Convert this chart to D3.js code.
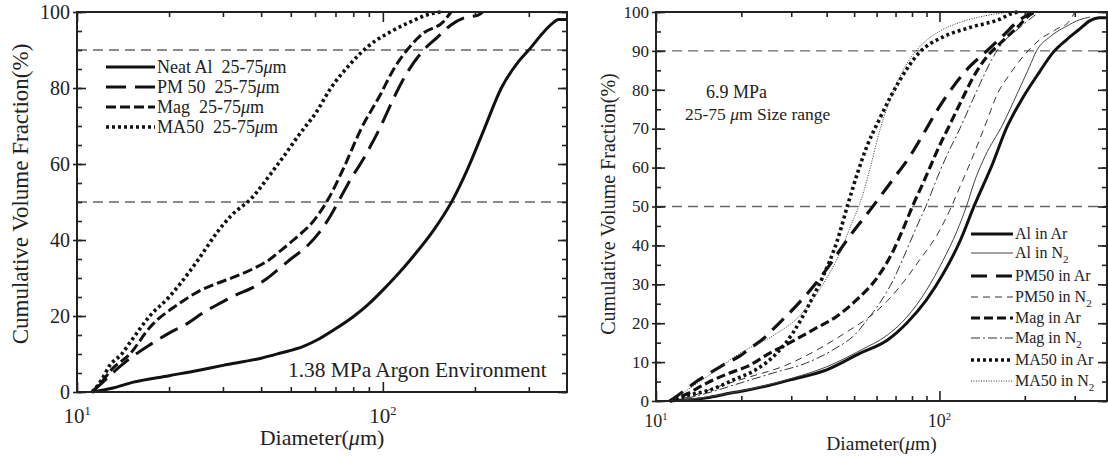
<!DOCTYPE html>
<html><head><meta charset="utf-8">
<script src="https://cdn.jsdelivr.net/npm/d3@7"></script>
<style>
html,body{margin:0;padding:0;background:#fff;}
svg{display:block;font-family:"Liberation Serif","Times New Roman",serif;}
text{fill:#222;white-space:pre;}
</style></head><body>
<svg id="chart" width="1108" height="456"></svg>
<script>
// ---------- DATA (diameter in µm, cumulative volume %) ----------
// Left panel: 1.38 MPa Argon
const leftNames = ["Neat Al  25-75", "PM 50  25-75", "Mag  25-75", "MA50  25-75"];
const neatAl = [[11.2,0],[13,1],[15.3,2.6],[20,4.3],[25.3,5.8],[30,7],[40,8.9],[46,10.2],[55,12],[62,14],[69,16.3],[80,19.8],[90,23.2],[100,26.8],[110,30.3],[126,35.8],[146,42.4],[169,50.5],[190,59],[214,69],[244,80],[278,87],[300,90],[338,95],[363,97.4],[375,98],[400,98]];
const pm50L = [[11.2,0],[12.3,3],[13.5,6],[15,9],[17.3,12.4],[20,15.5],[22.9,18],[26,21],[29.4,23.4],[33,25.5],[37.8,27.6],[42,30],[46,32.6],[50,35],[56.7,38.5],[62,42],[67.6,46.5],[72,50.5],[76.6,54.5],[88,62.5],[98.5,70],[108,77],[120,84],[136,90],[151,93.4],[167,96.6],[185,98.5],[205,99.2],[212,100]];
const magL = [[11.2,0],[12,2.5],[13,6],[14.9,10],[17.3,17],[21.7,23.4],[25,26.5],[28.7,28.6],[33,30.4],[37.8,32.5],[42,34.5],[46,37],[51,40],[60,45.5],[66,50.5],[74.5,59],[84.6,69],[98.5,78.5],[108,84.7],[120,90],[136,94.5],[158,97.5],[167,100]];
const ma50L = [[11.2,0],[12,3],[12.8,7],[14,10],[14.9,13],[17.3,20],[20,25],[21.8,28.6],[25,35],[28.7,42],[32,46.5],[37,50.8],[44,58.5],[47.4,62],[53,67.5],[61,74],[67,79.5],[78.6,86.5],[89,90.8],[106,94.8],[123,97.4],[146,99.7],[155,100]];

// Right panel: 6.9 MPa, Ar vs N2
const rightNames = ["Al in Ar","Al in N","PM50 in Ar","PM50 in N","Mag in Ar","Mag in N","MA50 in Ar","MA50 in N"];
const rightSubs = ["", "2", "", "2", "", "2", "", "2"];
const alAr = [[11.2,0],[13,0.3],[15.1,0.8],[18.2,2],[20,2.5],[25,4],[30,5.5],[40,8],[52.5,12.3],[65.6,15.7],[76.6,20],[90,26],[102.7,32.5],[118,41],[133,50.4],[154,61],[172,70],[197,78],[225,84.5],[251,89.5],[280,92.8],[312,95.6],[340,97.8],[366,98.5],[390,98.5]];
const alN2 = [[11.2,0],[13,0.4],[15,1],[20,2.6],[30,5.8],[40,8.8],[52.5,13],[65.6,17],[76.6,21.5],[90,28.5],[102.7,36],[115,43.5],[125,50.4],[133,56.5],[145,63],[167,71],[188,79],[208,86],[220,90],[245,93.6],[280,96.3],[312,98],[340,98.7]];
const pm50Ar = [[11.2,0],[12.5,2.5],[14,5.2],[15.5,7.2],[17.8,9.8],[19.8,11.6],[21.4,13.5],[23.9,16],[25.9,18.5],[32.2,25.5],[36.9,30.5],[41,35],[48.4,42.5],[56.8,49],[68.6,57],[78.8,63],[87.5,68.5],[97.7,74.5],[111,80.5],[128,86],[147,90],[167,93.8],[192,98],[204,99.2],[210,100]];
const pm50N2 = [[11.2,0],[13,1],[16.4,3.6],[21.4,6.2],[28.1,8.9],[36.9,13.1],[48.4,18.3],[57,21.8],[65.6,25.8],[74.5,30.5],[85,36.2],[97.7,42.5],[108.7,49],[118,55],[128,61],[147,72],[159,78.5],[177,84],[197,88.5],[225,92.8],[259,95.6],[287,97.6],[300,100]];
const magAr = [[11.2,0],[13,2],[15.1,4.6],[18.2,7.2],[21,8.9],[25.2,12.3],[29.7,15],[35.8,18.3],[43.5,21.8],[51,26],[60,31.5],[68.6,38.5],[74,43.8],[80.7,50.4],[87.5,56],[92.5,60],[97.7,64],[108.7,71],[121,78],[131,83],[147,88.5],[164,92],[188,96],[213,99.7],[220,100]];
const magN2 = [[11.2,0],[13,0.8],[15.1,2],[19.8,4.6],[25.9,7.2],[34,9.8],[42,13.1],[51,17.5],[55.5,20.8],[61.6,25.2],[68.6,31],[76.6,38.8],[83,44.7],[90,50.4],[97.7,57],[106,63],[118,70],[131,77.4],[142,83],[154,88.2],[167,92],[192,96],[213,98.7],[225,100]];
const ma50Ar = [[11.2,0],[13,1.5],[15.5,2.8],[18.7,5.4],[22.7,8.2],[26.7,12.3],[30.4,17.5],[34.9,25.2],[38.8,32],[43.5,41],[47.5,50.5],[51.5,58.8],[55.5,65.5],[61,72],[67,78],[72.5,82.5],[85,89.6],[103,93.6],[128,96],[164,98.2],[181,99.7],[190,100]];
const ma50N2 = [[11.2,0],[13,3],[15.1,6.2],[19.8,12.3],[25.9,16.8],[32.2,22],[38.8,30],[44.5,38],[48,44],[53.6,53],[57,60],[61,68.5],[67,77.5],[75,85.5],[85,91],[100,95],[120,97.5],[140,98.8],[165,99.7],[180,100]];

// Axis tick values
const xMajor = [10, 100];
const xMinor = [20,30,40,50,60,70,80,90,200,300];
const leftYMajor = [0,20,40,60,80,100];
const rightYMajor = [0,10,20,30,40,50,60,70,80,90,100];
const yMinor = d3.range(0, 101, 5);
const refLines = [50, 90];

// ---------- STYLES ----------
const leftStyles = [
  {w:3, dash:null}, {w:3, dash:"20,9"}, {w:3, dash:"10,4"}, {w:3.6, dash:"3,3"}
];
const rightStyles = [
  {w:3, dash:null}, {w:1, dash:null, c:"#444"},
  {w:3.2, dash:"16,9"}, {w:1, dash:"7,5", c:"#333"},
  {w:3.2, dash:"9,4"}, {w:1, dash:"9,3,2,3", c:"#333"},
  {w:3.6, dash:"3,3"}, {w:1, dash:"1,1.5", c:"#333"}
];

const svg = d3.select("#chart");

function panel(cfg) {
  const x = d3.scaleLog().domain(cfg.xDomain).range([cfg.x0, cfg.x1]);
  const y = d3.scaleLinear().domain([0,100]).range([cfg.y1, cfg.y0]);
  const g = svg.append("g");

  // reference lines
  g.selectAll("line.ref").data(refLines).join("line")
    .attr("x1", cfg.x0).attr("x2", cfg.x1)
    .attr("y1", d=>y(d)).attr("y2", d=>y(d))
    .attr("stroke", "#666").attr("stroke-width", 1.3).attr("stroke-dasharray", "10,6");

  // curves
  const line = d3.line().x(d=>x(d[0])).y(d=>y(d[1])).curve(d3.curveMonotoneX);
  cfg.series.forEach((s,i) => {
    const st = cfg.styles[i];
    g.append("path").attr("d", line(s)).attr("fill","none")
      .attr("stroke", st.c || "#111").attr("stroke-width", st.w)
      .attr("stroke-dasharray", st.dash).attr("stroke-linejoin","round");
  });

  // axes ticks
  const addAxis = (axis, tx, ty) => {
    const a = g.append("g").attr("transform", `translate(${tx},${ty})`).call(axis);
    a.select(".domain").remove();
    a.selectAll("text").remove();
    a.selectAll("line").attr("stroke", "#222").attr("stroke-width", 1.6);
  };
  addAxis(d3.axisBottom(x).tickValues(xMinor).tickSize(-5).tickFormat(""), 0, cfg.y1);
  addAxis(d3.axisBottom(x).tickValues(xMajor).tickSize(-10).tickFormat(""), 0, cfg.y1);
  addAxis(d3.axisTop(x).tickValues(xMinor).tickSize(-5).tickFormat(""), 0, cfg.y0);
  addAxis(d3.axisTop(x).tickValues(xMajor).tickSize(-10).tickFormat(""), 0, cfg.y0);
  addAxis(d3.axisLeft(y).tickValues(yMinor).tickSize(-5).tickFormat(""), cfg.x0, 0);
  addAxis(d3.axisLeft(y).tickValues(cfg.yMajor).tickSize(-9).tickFormat(""), cfg.x0, 0);
  addAxis(d3.axisLeft(y).tickValues(cfg.yMajor).tickSize(4).tickFormat(""), cfg.x0, 0);
  addAxis(d3.axisRight(y).tickValues(yMinor).tickSize(-5).tickFormat(""), cfg.x1, 0);
  addAxis(d3.axisRight(y).tickValues(cfg.yMajor).tickSize(-9).tickFormat(""), cfg.x1, 0);

  // frame
  g.append("rect").attr("x", cfg.x0).attr("y", cfg.y0)
    .attr("width", cfg.x1-cfg.x0).attr("height", cfg.y1-cfg.y0)
    .attr("fill","none").attr("stroke","#222").attr("stroke-width",2);

  // y tick labels
  g.selectAll("text.yl").data(cfg.yMajor).join("text")
    .attr("x", cfg.x0-7).attr("y", d=>y(d)+cfg.tickFont*0.34)
    .attr("text-anchor","end").attr("font-size", cfg.tickFont).text(d=>d);

  // x tick labels 10^n
  xMajor.forEach(v => {
    const t = g.append("text").attr("x", x(v)).attr("y", cfg.xLabY)
      .attr("text-anchor","middle").attr("font-size", cfg.tickFont+1);
    t.append("tspan").text("10");
    t.append("tspan").attr("dy", -cfg.tickFont*0.42).attr("font-size", cfg.tickFont*0.62)
      .text(Math.round(Math.log10(v)));
  });

  // axis titles
  const xt = g.append("text").attr("x", (cfg.x0+cfg.x1)/2).attr("y", cfg.xTitleY)
    .attr("text-anchor","middle").attr("font-size", cfg.xTitleFont);
  xt.append("tspan").text("Diameter(");
  xt.append("tspan").attr("font-style","italic").text("\u03bc");
  xt.append("tspan").text("m)");
  g.append("text").attr("transform", `translate(${cfg.yTitleX},${cfg.yTitleY}) rotate(-90)`)
    .attr("text-anchor","middle").attr("dominant-baseline","central")
    .attr("font-size", cfg.yTitleFont).text("Cumulative Volume Fraction(%)");

  return {x, y, g};
}

// LEFT PANEL
const L = panel({
  x0:77, x1:567, y0:12, y1:392, xDomain:[10,400],
  series:[neatAl, pm50L, magL, ma50L], styles:leftStyles,
  yMajor:leftYMajor, tickFont:20, xLabY:423, xTitleY:445, xTitleFont:22,
  yTitleX:20, yTitleY:194, yTitleFont:23
});
// left legend
leftNames.forEach((n,i) => {
  const yy = 67 + i*20, st = leftStyles[i];
  L.g.append("line").attr("x1",106).attr("x2",155).attr("y1",yy).attr("y2",yy)
    .attr("stroke","#111").attr("stroke-width",st.w).attr("stroke-dasharray",st.dash);
  const t = L.g.append("text").attr("x",157).attr("y",yy+6).attr("font-size",18);
  t.append("tspan").text(n);
  t.append("tspan").attr("font-style","italic").text("\u03bc");
  t.append("tspan").text("m");
});
L.g.append("text").attr("x",288).attr("y",377).attr("font-size",21.4)
  .text("1.38 MPa Argon Environment");

// RIGHT PANEL
const R = panel({
  x0:656, x1:1107, y0:12, y1:401, xDomain:[10,390],
  series:[alAr, alN2, pm50Ar, pm50N2, magAr, magN2, ma50Ar, ma50N2], styles:rightStyles,
  yMajor:rightYMajor, tickFont:17, xLabY:427, xTitleY:450, xTitleFont:19.5,
  yTitleX:608, yTitleY:204, yTitleFont:20
});
const legY = [234, 253, 276, 297, 318, 338, 360, 381];
rightNames.forEach((n,i) => {
  const yy = legY[i], st = rightStyles[i];
  R.g.append("line").attr("x1",971).attr("x2",1013).attr("y1",yy).attr("y2",yy)
    .attr("stroke", st.c || "#111").attr("stroke-width",st.w).attr("stroke-dasharray",st.dash);
  const t = R.g.append("text").attr("x",1015).attr("y",yy+5).attr("font-size",16);
  t.append("tspan").text(n);
  if (rightSubs[i]) t.append("tspan").attr("dy",5).attr("font-size",11).text(rightSubs[i]);
});
R.g.append("text").attr("x",706).attr("y",98).attr("font-size",18).text("6.9 MPa");
const ann = R.g.append("text").attr("x",685).attr("y",120).attr("font-size",17.5);
ann.append("tspan").text("25-75 ");
ann.append("tspan").attr("font-style","italic").text("\u03bc");
ann.append("tspan").text("m Size range");
</script>
</body></html>
